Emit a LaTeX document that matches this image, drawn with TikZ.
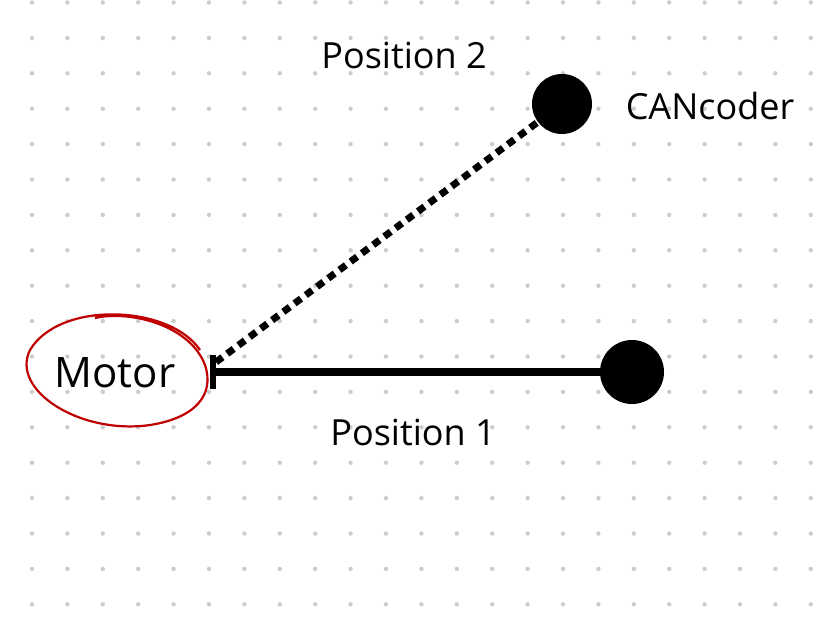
\documentclass[tikz,border=0pt]{standalone}
\usepackage{fontspec}
\setmainfont{Open Sans}
\begin{document}
\begin{tikzpicture}[x=1pt,y=-1pt,
  lbl/.style={font=\fontsize{36}{40}\selectfont},
  joint/.style={circle,fill=black,inner sep=0pt}]
\useasboundingbox (0,0) rectangle (840,633);
\fill[white] (0,0) rectangle (840,633);
\foreach \i in {0,...,22}{\foreach \j in {0,...,17}{
  \fill[gray!40] (32+\i*35.4,2.5+\j*35.4) circle (2.2);}}
\node[lbl,font=\fontsize{42}{46}\selectfont] (motor) at (115,373) {Motor};
\draw[red!75!black,line width=2.2pt] (200,350) .. controls (170,305) and (60,300) .. (30,350) .. controls (10,390) and (80,435) .. (150,425) .. controls (195,418) and (215,395) .. (205,365) .. controls (190,325) and (130,310) .. (95,318);
\coordinate (pivot) at (213,372);
\node[joint,minimum size=64pt] (p1) at (632,372) {};
\node[joint,minimum size=60pt] (p2) at (562,104) {};
\draw[line width=8pt] (pivot) -- (p1.center);
\draw[line width=6pt] (213,355) -- (213,389);
\draw[line width=7pt,dash pattern=on 8pt off 6pt] (216,362) -- (p2);
\node[lbl] (t2) at (404,55) {Position 2};
\node[lbl] (tc) at (710,106) {CANcoder};
\node[lbl] (t1) at (413,432) {Position 1};
\end{tikzpicture}
\end{document}
